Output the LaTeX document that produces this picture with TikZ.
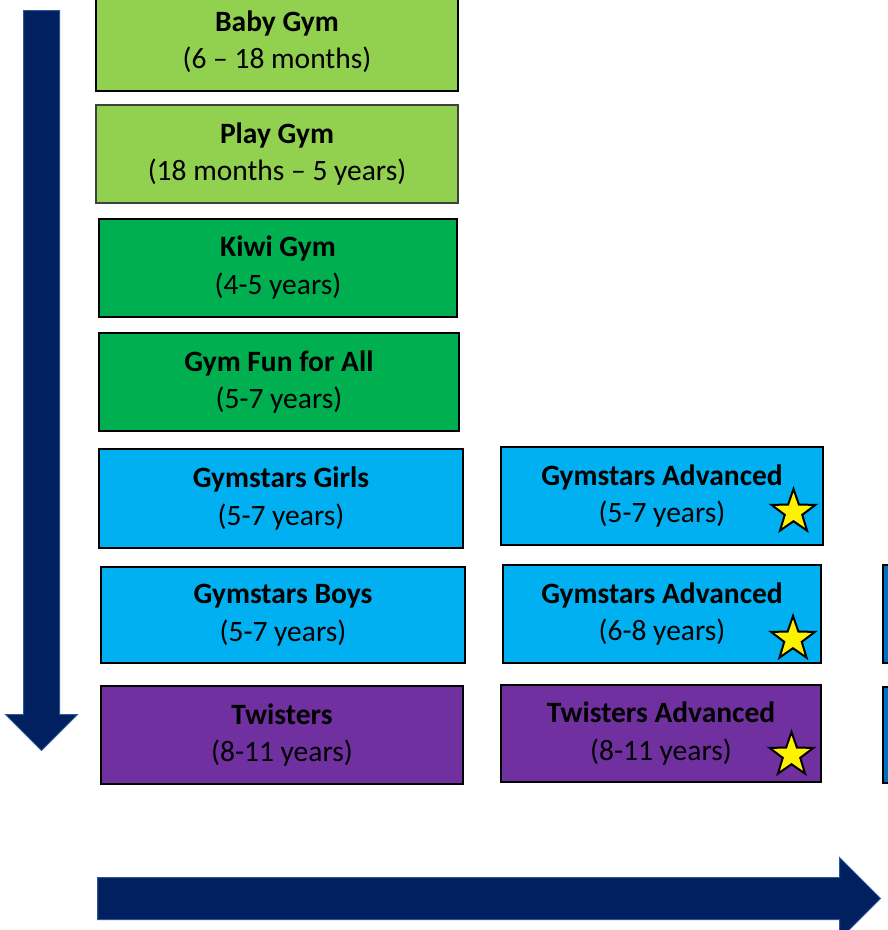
\documentclass[tikz,border=0pt]{standalone}
\usepackage{fontspec}
\setmainfont{Carlito}
\usepackage{tikz}
\usetikzlibrary{shapes,arrows}
\definecolor{tots}{HTML}{92D050}
\definecolor{kids}{HTML}{00B050}
\definecolor{stars}{HTML}{00B0F0}
\definecolor{twist}{HTML}{7030A0}
\definecolor{squad}{HTML}{0070C0}
\definecolor{navy}{HTML}{002060}
\definecolor{navyrim}{HTML}{2F5597}
\tikzstyle{grp} = [rectangle, draw, line width=2pt, minimum width=362pt, minimum height=98pt, align=center, inner sep=0pt, font=\fontsize{29.5}{37.5}\selectfont]
\tikzstyle{grp_tots} = [grp, fill=tots]
\tikzstyle{grp_kids} = [grp, fill=kids]
\tikzstyle{grp_stars} = [grp, fill=stars, minimum width=364pt]
\tikzstyle{grp_twist} = [grp, fill=twist]
\tikzstyle{grp_adv} = [grp, minimum width=320pt]
\tikzstyle{grp_next} = [grp, fill=squad, line width=1.5pt, minimum width=320pt]
\tikzstyle{badge} = [star, star points=5, star point ratio=2.5, draw, line width=2pt, fill=yellow, minimum size=46pt, inner sep=0pt]
\tikzstyle{big_arrow} = [single arrow, draw=navyrim, line width=1pt, fill=navy, inner xsep=0pt, anchor=tail]

\begin{document}
\begin{tikzpicture}[x=1pt, y=-1pt]
\useasboundingbox (0,0) rectangle (888,930);

\node [big_arrow, rotate=-90, minimum height=740pt, inner ysep=17.5pt, single arrow head extend=18pt] (down) at (41.5,10) {};
\node [big_arrow, minimum height=783pt, inner ysep=20.5pt, single arrow head extend=20pt] (along) at (97,898.5) {};

\node [grp_tots, minimum height=99pt] (baby) at (277,41.5) {\textbf{Baby Gym}\\(6 – 18 months)};
\node [grp_tots, draw=black!75, below of = baby, node distance = 112.5pt] (play) {\textbf{Play Gym}\\(18 months – 5 years)};
\node [grp_kids, minimum width=358pt, below of = play, node distance = 113.5pt, xshift=1pt] (kiwi) {\textbf{Kiwi Gym}\\(4-5 years)};
\node [grp_kids, minimum width=360pt, below of = kiwi, node distance = 114.5pt, xshift=1pt] (fun) {\textbf{Gym Fun for All}\\(5-7 years)};
\node [grp_stars, minimum height=99pt, below of = fun, node distance = 116.5pt, xshift=2pt] (girls) {\textbf{Gymstars Girls}\\(5-7 years)};
\node [grp_stars, minimum height=96pt, below of = girls, node distance = 116.5pt, xshift=2pt] (boys) {\textbf{Gymstars Boys}\\(5-7 years)};
\node [grp_twist, below of = boys, node distance = 120pt, xshift=-1pt] (twisters) {\textbf{Twisters}\\(8-11 years)};

\node [grp_adv, fill=stars, minimum width=322pt, right of = girls, node distance = 381pt, yshift=2.5pt] (adv1) {\textbf{Gymstars Advanced}\\(5-7 years)};
\node [grp_adv, fill=stars, minimum width=318pt, right of = boys, node distance = 379pt, yshift=1pt] (adv2) {\textbf{Gymstars Advanced}\\(6-8 years)};
\node [grp_adv, fill=twist, minimum height=97pt, right of = twisters, node distance = 379pt, yshift=1.5pt] (adv3) {\textbf{Twisters Advanced}\\(8-11 years)};

\node [grp_next, right of = adv2, node distance = 381pt] (next1) {};
\node [grp_next, minimum height=96pt, right of = adv3, node distance = 382pt, yshift=-1.5pt] (next2) {};

\node [badge] (star1) at (793.5,512) {};
\node [badge] (star2) at (793,639) {};
\node [badge] (star3) at (791.5,755) {};

\end{tikzpicture}
\end{document}
